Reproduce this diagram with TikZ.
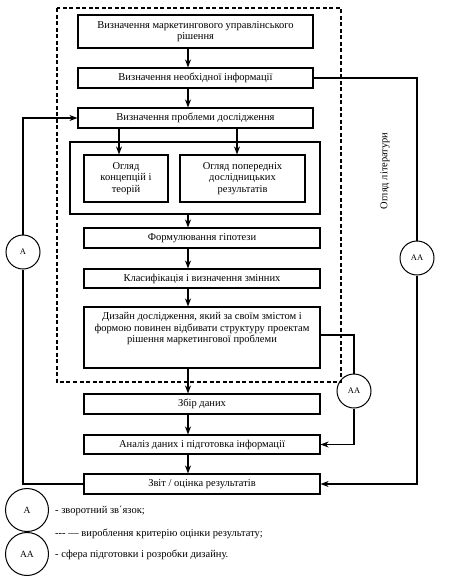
\documentclass[tikz,border=0pt]{standalone}
\usepackage{fontspec}
\setmainfont{Liberation Serif}
\usetikzlibrary{arrows.meta,positioning}
\begin{document}
\begin{tikzpicture}[x=1pt,y=-1pt,
  box/.style={draw,line width=1.1pt,inner sep=0pt,font=\fontsize{10.5}{11.5}\selectfont,align=center},
  circ/.style={draw,circle,line width=1pt,minimum size=34pt,inner sep=0pt,font=\fontsize{8.5}{9}\selectfont},
  lcirc/.style={draw,circle,line width=1pt,minimum size=43pt,inner sep=0pt,font=\fontsize{9.5}{10}\selectfont},
  conn/.style={line width=1.1pt},
  arr/.style={line width=1.1pt,-{Stealth[length=8pt,width=6pt,inset=2.5pt]}},
  txt/.style={font=\fontsize{10.5}{11.5}\selectfont,inner sep=0pt},
]
\useasboundingbox (0,0) rectangle (457,579);
% dashed frame
\draw[line width=1.1pt,dash pattern=on 4pt off 2.5pt] (57,8) rectangle (341,382);
% boxes
\node[box,minimum width=235pt,minimum height=33pt] (b1) at (195.5,31.5) {Визначення маркетингового управлінського\\рішення};
\node[box,minimum width=235pt,minimum height=20pt] (b2) at (195.5,78) {Визначення необхідної інформації};
\node[box,minimum width=235pt,minimum height=20pt] (b3) at (195.5,118) {Визначення проблеми дослідження};
\node[box,minimum width=250pt,minimum height=72pt] (cont) at (195,178) {};
\node[box,minimum width=84pt,minimum height=47pt] (il) at (126,178.5) {Огляд\\концепцій і\\теорій};
\node[box,minimum width=125pt,minimum height=47pt] (ir) at (242.5,178.5) {Огляд попередніх\\дослідницьких\\результатів};
\node[box,minimum width=236pt,minimum height=20pt] (f) at (202,238) {Формулювання гіпотези};
\node[box,minimum width=236pt,minimum height=19pt] (k) at (202,278.5) {Класифікація і визначення змінних};
\node[box,minimum width=236pt,minimum height=61pt] (dz) at (202,337.5) {};
\node[txt,align=center,font=\fontsize{10.5}{11.5}\selectfont] (dzt) at (202,329) {Дизайн дослідження, який за своїм змістом і\\формою повинен відбивати структуру проектам\\рішення маркетингової проблеми};
\node[box,minimum width=236pt,minimum height=20pt] (z) at (202,404) {Збір даних};
\node[box,minimum width=236pt,minimum height=19pt] (an) at (202,444.5) {Аналіз даних і підготовка інформації};
\node[box,minimum width=236pt,minimum height=20pt] (zv) at (202,484) {Звіт / оцінка результатів};
% circles
\node[circ] (ca) at (23,252) {A};
\node[circ] (caa1) at (417,258) {AA};
\node[circ] (caa2) at (354,391) {AA};
% rotated text
\node[txt,rotate=90,font=\fontsize{10.5}{11}\selectfont] (lit) at (385,171) {Огляд літератури};
% main arrows
\draw[arr] (b1.south -| 188,0) -- (b2.north -| 188,0);
\draw[arr] (b2.south -| 188,0) -- (b3.north -| 188,0);
\draw[arr] (b3.south -| 119,0) -- (il.north -| 119,0);
\draw[arr] (b3.south -| 237,0) -- (ir.north -| 237,0);
\draw[arr] (cont.south -| 188,0) -- (f.north -| 188,0);
\draw[arr] (f.south -| 188,0) -- (k.north -| 188,0);
\draw[arr] (k.south -| 188,0) -- (dz.north -| 188,0);
\draw[arr] (dz.south -| 188,0) -- (z.north -| 188,0);
\draw[arr] (z.south -| 188,0) -- (an.north -| 188,0);
\draw[arr] (an.south -| 188,0) -- (zv.north -| 188,0);
% feedback left
\draw[conn] (zv.west) -| (ca.south);
\draw[arr] (ca.north) |- (b3.west);
% right loop
\draw[conn] (b2.east) -| (caa1.north);
\draw[arr] (caa1.south) |- (zv.east);
% design loop
\coordinate (dze) at (320,335);
\draw[conn] (dze) -| (caa2.north);
\draw[arr] (caa2.south) |- (an.east);
% legend
\node[lcirc] (la) at (27,510) {A};
\node[lcirc] (laa) at (27,554) {AA};
\node[txt,anchor=west] (t1) at (55,511) {- зворотний зв΄язок;};
\node[txt,anchor=west] (t2) at (55,534) {-{}-{}- — вироблення критерію оцінки результату;};
\node[txt,anchor=west] (t3) at (55,555) {- сфера підготовки і розробки дизайну.};
\end{tikzpicture}
\end{document}
